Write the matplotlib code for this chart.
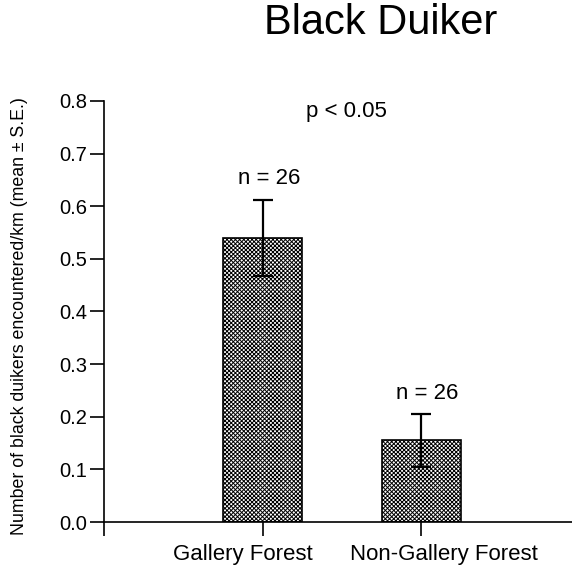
import matplotlib.pyplot as plt
from matplotlib.transforms import ScaledTranslation

plt.rcParams["font.family"] = ["Liberation Sans", "DejaVu Sans"]
plt.rcParams["hatch.linewidth"] = 0.7

habitats = ["Gallery Forest", "Non-Gallery Forest"]
medias = [0.54, 0.155]
errores = [0.072, 0.05]
n_muestras = [26, 26]

fig = plt.figure(figsize=(5.72, 5.69), dpi=100)
ax = fig.add_axes([0.1818, 0.0826, 0.8182, 0.7399])

pos = list(range(len(habitats)))
ax.bar(pos, medias, width=0.5, color="white", edgecolor="black",
       linewidth=1.2, hatch="xxxxxxxx", zorder=2)
ax.errorbar(pos, medias, yerr=errores, fmt="none", ecolor="black",
            elinewidth=1.6, capsize=7, capthick=1.6, zorder=3)

for x, m, e, n in zip(pos, medias, errores, n_muestras):
    ax.text(x + 0.04, m + e + 0.02, f"n = {n}", ha="center", va="bottom",
            fontsize=16)

ax.text(0.53, 0.78, "p < 0.05", ha="center", va="center", fontsize=16)

ax.set_xlim(-1, 1.95)
ax.set_ylim(0, 0.8)
ax.set_yticks([i / 10 for i in range(9)])
ax.set_yticklabels([f"{i / 10:.1f}" for i in range(9)], fontsize=14.5)
ax.set_xticks([-1] + pos)
ax.set_xticklabels([""] + habitats, fontsize=16)
ax.tick_params(axis="both", length=10, width=1.2, direction="out")
ax.tick_params(axis="x", pad=6)
ax.tick_params(axis="y", pad=2)

# las etiquetas del eje x van algo desplazadas respecto a sus marcas
for etiqueta, dx in zip(ax.get_xticklabels()[1:], [-0.20, 0.23]):
    etiqueta.set_transform(etiqueta.get_transform() +
                           ScaledTranslation(dx, 0, fig.dpi_scale_trans))

for lado in ["top", "right"]:
    ax.spines[lado].set_visible(False)
for lado in ["left", "bottom"]:
    ax.spines[lado].set_linewidth(1.2)

ax.set_ylabel("Number of black duikers encountered/km (mean \u00b1 S.E.)",
              fontsize=12.8)
ax.yaxis.set_label_coords(-0.163, 0.49)
fig.text(0.665, 0.96, "Black Duiker", ha="center", va="center", fontsize=30)

fig.savefig("out.png", dpi=100)
